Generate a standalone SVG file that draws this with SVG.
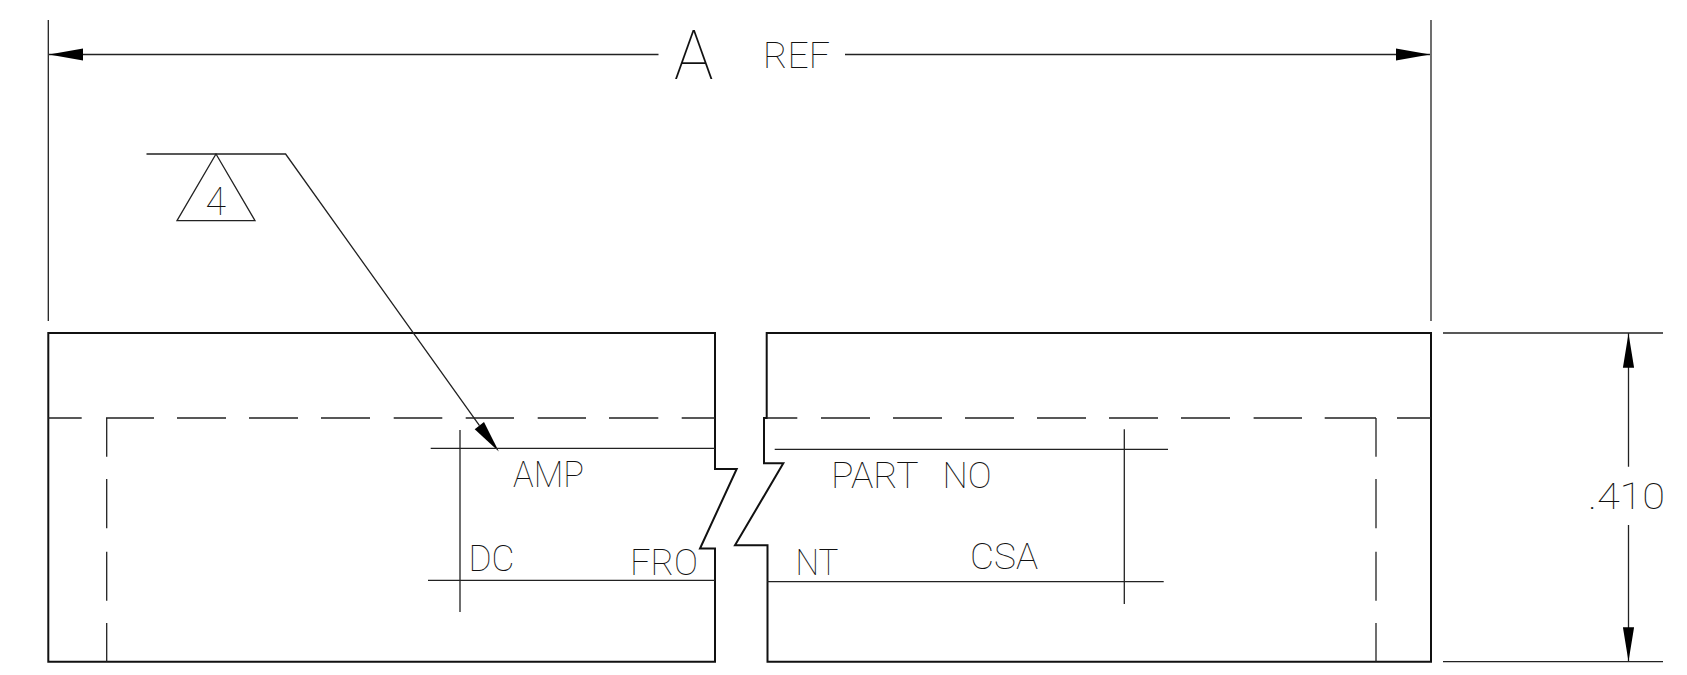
<svg xmlns="http://www.w3.org/2000/svg" width="1687" height="675" viewBox="0 0 1687 675">
<style>
.bg{fill:#fff}
.o{fill:none;stroke:#111;stroke-width:2}
.t{fill:none;stroke:#222;stroke-width:1.3}
.a{fill:#000;stroke:none}
text{font-family:"Roboto","DejaVu Sans Light","Liberation Sans",sans-serif;font-weight:100;fill:#111;white-space:pre}
</style>
<rect class="bg" width="1687" height="675"/>
<g id="left-part"><path class="o" d="M48.3 333H715V469H736.7L700 548.5H715V661.7H48.3Z"/></g>
<g id="right-part"><path class="o" d="M766.7 333V418H764V463.3H783.3L735 545.3H767.5V661.7H1431V333Z"/></g>
<g id="connectors">
<path class="t" d="M48.3 20V321M1431 20V321M49 54.5H658.5M845 54.5H1430"/>
<path class="a" d="M49 54.5L83 48.5V60.5ZM1430 54.5L1396 48.5V60.5Z"/>
<path class="t" d="M146.5 154H285.6L479.5 425.7"/>
<path class="a" d="M498.8 451.5L474.7 429.3L484 422Z"/>
<path class="t" d="M1443 333H1663M1443 661.7H1663M1628.5 333V466.7M1628.5 525V661.7"/>
<path class="a" d="M1628.5 333.5L1622.9 367.7H1634.1ZM1628.5 661.5L1622.9 627.3H1634.1Z"/>
</g>
<g id="hidden-lines"><path class="t" d="M48 418H81.7M106 418H154M177 418H226M249 418H298M321 418H370M393.7 418H442.3M465.7 418H514M537.7 418H586M609 418H658.3M681.7 418H715M767 418H797.3M821 418H870M893 418H942M965 418H1014M1037 418H1086M1109 418H1158M1181 418H1230M1253.6 418H1302M1324.7 418H1376M1397 418H1431"/>
<path class="t" d="M1376 418V456.7M1376 479V528.3M1376 551.7V600.7M1376 623V661.7M106.7 418V456.7M106.7 479V528.3M106.7 551.7V600.7M106.7 623V661.7"/></g>
<g id="inner-lines"><path class="t" d="M430.7 448.3H715M428 580.3H715M460 430V612M774.7 449.3H1168M767 581.7H1163.7M1124.3 429.3V604"/></g>
<g id="note-flag"><path class="t" d="M216 154L255 220.7H177Z"/><text x="205.5" y="215" font-size="38" textLength="20.5" lengthAdjust="spacingAndGlyphs">4</text></g>
<g id="labels">
<text x="674" y="79" font-size="69" textLength="39.5" lengthAdjust="spacingAndGlyphs">A</text>
<text x="763" y="68" font-size="36.5" textLength="67" lengthAdjust="spacingAndGlyphs">REF</text>
<text x="1588" y="509.3" font-size="36.5" textLength="77" lengthAdjust="spacingAndGlyphs">.410</text>
<text x="513" y="487.3" font-size="36" textLength="71" lengthAdjust="spacingAndGlyphs">AMP</text>
<text y="488" font-size="36"><tspan x="831" textLength="87" lengthAdjust="spacingAndGlyphs">PART</tspan> <tspan x="942.5" textLength="49" lengthAdjust="spacingAndGlyphs">NO</tspan></text>
<text x="468.5" y="570.7" font-size="36" textLength="46" lengthAdjust="spacingAndGlyphs">DC</text>
<text x="630" y="575" font-size="36" textLength="68" lengthAdjust="spacingAndGlyphs">FRO</text>
<text x="795.5" y="575" font-size="36" textLength="43" lengthAdjust="spacingAndGlyphs">NT</text>
<text x="970" y="569" font-size="36" textLength="68" lengthAdjust="spacingAndGlyphs">CSA</text>
</g>
</svg>
